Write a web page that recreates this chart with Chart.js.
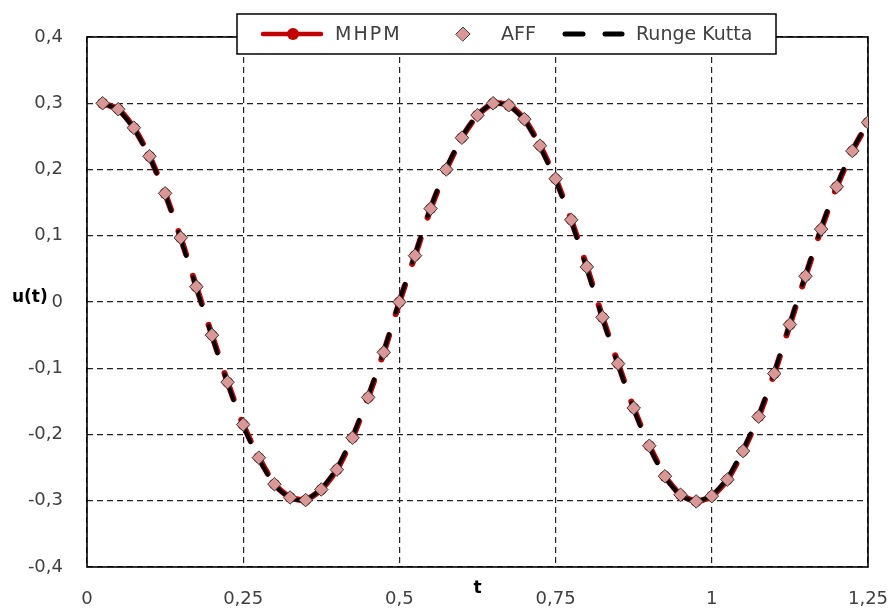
<!DOCTYPE html>
<html>
<head>
<meta charset="utf-8">
<script src="https://cdn.jsdelivr.net/npm/chart.js@4.4.0/dist/chart.umd.min.js"></script>
<style>
html,body{margin:0;padding:0;background:#fff;}
#wrap{width:895px;height:611px;position:relative;}
</style>
</head>
<body>
<div id="wrap"><canvas id="c" width="895" height="611"></canvas></div>
<script>
// ---- data ----
const tValues = [0.025,0.05,0.075,0.1,0.125,0.15,0.175,0.2,0.225,0.25,
  0.275,0.3,0.325,0.35,0.375,0.4,0.425,0.45,0.475,0.5,
  0.525,0.55,0.575,0.6,0.625,0.65,0.675,0.7,0.725,0.75,
  0.775,0.8,0.825,0.85,0.875,0.9,0.925,0.95,0.975,1,
  1.025,1.05,1.075,1.1,1.125,1.15,1.175,1.2,1.225,1.25];
const mhpmValues = [0.300,0.291,0.263,0.220,0.164,0.097,0.023,-0.050,-0.121,-0.185,
  -0.235,-0.275,-0.295,-0.299,-0.283,-0.253,-0.205,-0.144,-0.076,0.000,
  0.070,0.141,0.200,0.248,0.282,0.300,0.297,0.276,0.236,0.186,
  0.124,0.053,-0.023,-0.093,-0.160,-0.217,-0.263,-0.291,-0.301,-0.293,
  -0.268,-0.225,-0.173,-0.108,-0.034,0.039,0.110,0.174,0.228,0.271];
const affValues = [0.300,0.291,0.263,0.220,0.164,0.097,0.023,-0.050,-0.121,-0.185,
  -0.235,-0.275,-0.295,-0.299,-0.283,-0.253,-0.205,-0.144,-0.076,0.000,
  0.070,0.141,0.200,0.248,0.282,0.300,0.297,0.276,0.236,0.186,
  0.124,0.053,-0.023,-0.093,-0.160,-0.217,-0.263,-0.291,-0.301,-0.293,
  -0.268,-0.225,-0.173,-0.108,-0.034,0.039,0.110,0.174,0.228,0.271];
const rkValues = [0.300,0.290,0.262,0.219,0.163,0.095,0.021,-0.052,-0.123,-0.187,
  -0.237,-0.276,-0.296,-0.299,-0.282,-0.251,-0.203,-0.142,-0.074,0.002,
  0.072,0.143,0.202,0.249,0.283,0.300,0.296,0.275,0.234,0.184,
  0.122,0.050,-0.025,-0.095,-0.162,-0.219,-0.264,-0.292,-0.301,-0.292,
  -0.266,-0.223,-0.171,-0.106,-0.032,0.041,0.112,0.176,0.229,0.272];
const xTickValues = [0, 0.25, 0.5, 0.75, 1, 1.25];
const yTickValues = [-0.4, -0.3, -0.2, -0.1, 0, 0.1, 0.2, 0.3, 0.4];
const seriesNames = ['MHPM', 'AFF', 'Runge Kutta'];
const xTitle = 't';
const yTitle = 'u(t)';

// ---- helpers ----
const pts = vals => tValues.map((t, i) => ({x: t, y: vals[i]}));
const fmt = v => String(Math.round(v * 100) / 100).replace('.', ',');
const restartDash = {borderDashOffset: c => (c.p0DataIndex % 2) * 0.000001};
const FONT = "'DejaVu Sans', Verdana, sans-serif";
const TXT = '#404040';

const framePlugin = {
  id: 'frame',
  beforeDatasetsDraw(chart) {
    const a = chart.chartArea, ctx = chart.ctx;
    ctx.save();
    ctx.strokeStyle = '#000';
    ctx.lineWidth = 1.6;
    ctx.strokeRect(a.left, a.top, a.right - a.left, a.bottom - a.top);
    ctx.restore();
  }
};

const legendPlugin = {
  id: 'customLegend',
  afterDraw(chart) {
    const ctx = chart.ctx;
    const a = chart.chartArea;
    ctx.save();
    // axis titles
    ctx.fillStyle = '#000';
    ctx.font = "bold 17px " + FONT;
    ctx.textBaseline = 'middle';
    ctx.textAlign = 'left';
    ctx.fillText(yTitle, 12, 298);
    ctx.textAlign = 'center';
    ctx.fillText(xTitle, (a.left + a.right) / 2, 589);

    // legend box
    const bx = 237, by = 14, bw = 539, bh = 40, cy = by + bh / 2;
    ctx.fillStyle = '#fff';
    ctx.fillRect(bx, by, bw, bh);
    ctx.strokeStyle = '#000';
    ctx.lineWidth = 1.5;
    ctx.strokeRect(bx, by, bw, bh);

    // MHPM icon
    ctx.strokeStyle = '#c00000';
    ctx.lineWidth = 4.5;
    ctx.lineCap = 'round';
    ctx.beginPath(); ctx.moveTo(263, cy); ctx.lineTo(321, cy); ctx.stroke();
    ctx.fillStyle = '#c00000';
    ctx.beginPath(); ctx.arc(293, cy, 6, 0, Math.PI * 2); ctx.fill();
    // AFF icon
    ctx.fillStyle = '#d99795';
    ctx.strokeStyle = '#404040';
    ctx.lineWidth = 1;
    ctx.beginPath();
    ctx.moveTo(463 - 7, cy); ctx.lineTo(463, cy - 7); ctx.lineTo(463 + 7, cy); ctx.lineTo(463, cy + 7);
    ctx.closePath(); ctx.fill(); ctx.stroke();
    // RK icon
    ctx.strokeStyle = '#000';
    ctx.lineWidth = 5;
    ctx.beginPath(); ctx.moveTo(565, cy); ctx.lineTo(583, cy); ctx.stroke();
    ctx.beginPath(); ctx.moveTo(605, cy); ctx.lineTo(622, cy); ctx.stroke();

    // labels
    ctx.fillStyle = TXT;
    ctx.font = "19px " + FONT;
    ctx.textAlign = 'left';
    ctx.textBaseline = 'middle';
    try { ctx.letterSpacing = '2px'; } catch (e) {}
    ctx.fillText(seriesNames[0], 335, cy + 1);
    try { ctx.letterSpacing = '0px'; } catch (e) {}
    ctx.fillText(seriesNames[1], 501, cy + 1);
    ctx.fillText(seriesNames[2], 636, cy + 1);
    ctx.restore();
  }
};

new Chart(document.getElementById('c'), {
  type: 'line',
  data: {
    datasets: [
      {
        label: seriesNames[0],
        data: pts(mhpmValues),
        borderColor: '#c00000',
        backgroundColor: '#c00000',
        borderWidth: 6,
        borderDash: [18, 22],
        borderCapStyle: 'round',
        pointStyle: 'circle',
        pointRadius: 5.5,
        pointBorderWidth: 0,
        pointBackgroundColor: '#c00000',
        tension: 0.2,
        order: 3,
        segment: restartDash
      },
      {
        label: seriesNames[1],
        data: pts(affValues),
        showLine: false,
        pointStyle: 'rectRot',
        pointRadius: 6.8,
        pointBackgroundColor: '#d99795',
        pointBorderColor: '#3a3a3a',
        pointBorderWidth: 1,
        order: 1
      },
      {
        label: seriesNames[2],
        data: pts(rkValues),
        borderColor: '#000',
        borderWidth: 4,
        borderDash: [18, 22],
        borderCapStyle: 'round',
        pointRadius: 0,
        tension: 0.2,
        order: 2,
        segment: restartDash
      }
    ]
  },
  options: {
    responsive: false,
    devicePixelRatio: 1,
    animation: false,
    layout: {padding: {left: 0, right: 27, top: 37, bottom: 0}},
    plugins: {legend: {display: false}, tooltip: {enabled: false}},
    scales: {
      x: {
        type: 'linear',
        min: 0, max: 1.25,
        afterBuildTicks: s => { s.ticks = xTickValues.map(v => ({value: v})); },
        afterFit: s => { s.height = 44; s.paddingRight = 0; s.paddingLeft = 0; },
        border: {display: false, dash: [6, 4]},
        grid: {color: '#222', lineWidth: 1.2, drawTicks: false},
        ticks: {
          autoSkip: false, maxRotation: 0, padding: 22,
          color: TXT, font: {family: FONT, size: 18},
          callback: v => fmt(v)
        }
      },
      y: {
        type: 'linear',
        min: -0.4, max: 0.4,
        afterBuildTicks: s => { s.ticks = yTickValues.map(v => ({value: v})); },
        afterFit: s => { s.width = 87; s.paddingTop = 0; s.paddingBottom = 0; },
        border: {display: false, dash: [6, 4]},
        grid: {color: '#222', lineWidth: 1.2, drawTicks: false},
        ticks: {
          autoSkip: false, padding: 24,
          color: TXT, font: {family: FONT, size: 18},
          callback: v => fmt(v)
        }
      }
    }
  },
  plugins: [framePlugin, legendPlugin]
});
</script>
</body>
</html>
